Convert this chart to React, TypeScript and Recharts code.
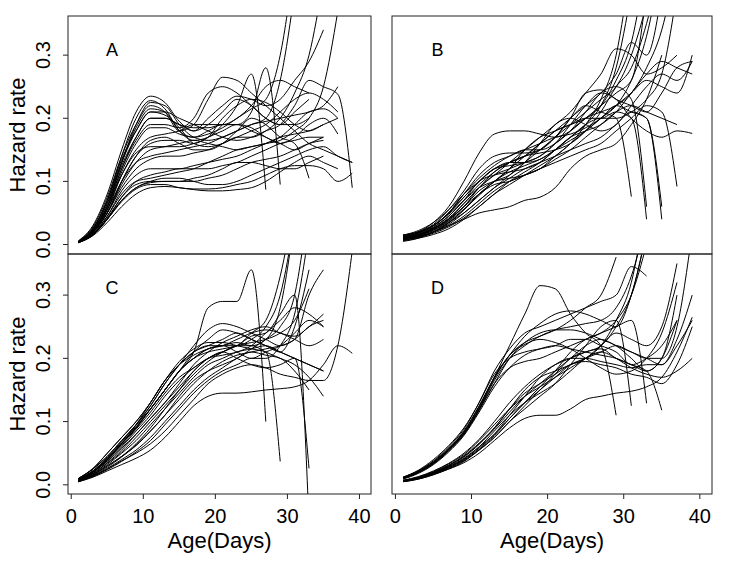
import React from "react";
import { LineChart, Line, XAxis, YAxis } from "recharts";

// knots every 2 days; each curve ends where its array ends
const days = [1, 3, 5, 7, 9, 11, 13, 15, 17, 19, 21, 23, 25, 27, 29, 31, 33, 35, 37, 39];
const yTicks = [0, 0.1, 0.2, 0.3];
const xTicks = [0, 10, 20, 30, 40];

const panelA = [
  [.005, .025, .07, .14, .2, .228, .215, .18, .165, .17, .19, .22, .27, .087],
  [.004, .02, .06, .13, .19, .225, .22, .19, .17, .165, .17, .18, .19, .2, .26, .4],
  [.006, .03, .08, .15, .21, .235, .225, .195, .18, .19, .21, .23, .22, .2, .19, .21, .23],
  [.004, .022, .065, .13, .185, .215, .21, .18, .17, .18, .19, .19, .18, .17, .16, .17, .19, .2, .175],
  [.005, .028, .075, .14, .19, .22, .21, .18, .19, .23, .265, .26, .24, .22, .2, .18, .16, .15, .14, .13],
  [.005, .026, .07, .135, .18, .21, .205, .185, .16, .155, .16, .17, .17, .18, .2, .24, .3, .42],
  [.003, .02, .06, .12, .17, .2, .2, .19, .185, .185, .19, .19, .21, .28, .095],
  [.004, .024, .07, .13, .18, .21, .21, .2, .19, .18, .17, .165, .17, .18, .19, .22, .26, .25, .238, .09],
  [.004, .02, .055, .11, .15, .17, .175, .18, .19, .19, .19, .2, .22, .25, .26, .25, .24],
  [.003, .018, .05, .1, .14, .16, .165, .165, .16, .17, .18, .19, .185, .17, .16, .15, .16, .17],
  [.005, .022, .06, .11, .145, .155, .155, .155, .16, .17, .2, .22, .23, .225, .21, .19, .18, .19, .2],
  [.004, .02, .05, .095, .13, .15, .155, .16, .165, .16, .155, .15, .155, .16, .17, .19, .21, .215, .2],
  [.004, .019, .05, .1, .14, .165, .17, .16, .15, .15, .16, .18, .2, .19, .17, .16, .105],
  [.005, .022, .055, .1, .13, .14, .145, .15, .155, .16, .17, .18, .19, .195, .2, .205, .21, .22, .25],
  [.004, .02, .05, .09, .12, .135, .14, .14, .145, .15, .16, .17, .18, .19, .21, .23, .24, .23, .21],
  [.004, .015, .04, .07, .09, .1, .105, .105, .1, .095, .095, .1, .11, .12, .13, .14, .15, .155, .14, .13],
  [.003, .015, .04, .068, .088, .095, .095, .09, .088, .088, .09, .095, .1, .11, .12, .125, .125, .12, .1, .113],
  [.004, .016, .04, .07, .09, .098, .1, .1, .1, .105, .11, .12, .13, .135, .14, .15, .16, .165],
  [.003, .014, .035, .06, .08, .09, .092, .09, .087, .085, .085, .087, .09, .1, .115, .13, .14, .13, .12],
  [.004, .016, .042, .075, .1, .11, .115, .12, .12, .12, .125, .13, .14, .15, .16, .165, .17, .17],
  [.004, .017, .045, .08, .1, .105, .11, .115, .12, .13, .14, .15, .155, .16, .165, .18, .2, .25, .37],
  [.003, .015, .04, .075, .095, .1, .1, .1, .105, .11, .12, .13, .13, .125, .12, .12, .13, .14],
  [.004, .016, .045, .085, .11, .12, .12, .12, .125, .13, .135, .14, .15, .16, .17, .175, .18, .19],
  [.004, .022, .06, .12, .165, .19, .19, .185, .2, .24, .25, .24, .22, .2, .19, .19, .2],
  [.005, .024, .065, .125, .17, .2, .2, .19, .18, .2, .22, .235, .23, .22, .23, .26, .29, .34],
  [.004, .02, .055, .115, .16, .185, .185, .175, .17, .175, .185, .2, .215, .23, .3, .45],
];

const panelB = [
  [.015, .02, .035, .06, .1, .145, .175, .18, .18, .175, .17, .18, .2, .22, .24, .26, .4],
  [.005, .01, .02, .03, .04, .05, .055, .06, .07, .075, .09, .12, .14, .15, .16, .19, .23, .3],
  [.01, .015, .025, .04, .06, .09, .11, .12, .13, .14, .16, .19, .22, .24, .23, .2, .18, .17, .18, .176],
  [.01, .016, .028, .045, .07, .1, .11, .115, .12, .13, .15, .17, .18, .19, .21, .24, .27, .29, .28, .27],
  [.012, .018, .03, .05, .08, .1, .12, .13, .14, .16, .18, .2, .22, .21, .2, .076],
  [.01, .015, .025, .04, .06, .08, .095, .1, .11, .12, .14, .16, .19, .23, .3, .45],
  [.008, .012, .02, .035, .055, .08, .1, .12, .15, .17, .18, .19, .2, .22, .26, .32, .45],
  [.015, .02, .03, .05, .08, .11, .13, .14, .15, .15, .16, .18, .21, .24, .25, .23, .06],
  [.01, .014, .022, .035, .05, .07, .09, .105, .12, .13, .14, .15, .16, .17, .19, .21, .2, .04],
  [.012, .018, .03, .05, .075, .1, .12, .125, .13, .14, .16, .18, .2, .21, .22, .24, .28, .34, .45],
  [.008, .012, .02, .032, .05, .07, .09, .11, .13, .15, .17, .19, .21, .23, .25, .3, .38],
  [.01, .016, .026, .042, .065, .09, .115, .13, .14, .15, .17, .2, .24, .245, .23, .22, .21, .24, .28, .29],
  [.009, .013, .02, .03, .045, .065, .085, .1, .11, .12, .13, .14, .15, .16, .18, .2, .22, .21, .092],
  [.014, .02, .032, .055, .085, .12, .14, .145, .145, .15, .17, .2, .22, .24, .27, .32, .3, .4],
  [.01, .015, .025, .04, .065, .09, .11, .13, .15, .17, .19, .21, .24, .27, .31, .3, .27, .28, .3],
  [.006, .01, .016, .025, .04, .06, .08, .095, .11, .125, .14, .16, .18, .2, .22, .26, .33, .45],
  [.012, .018, .03, .048, .07, .09, .1, .105, .11, .12, .135, .15, .17, .19, .21, .22, .21, .2, .19],
  [.01, .015, .024, .038, .06, .085, .1, .11, .13, .16, .19, .2, .19, .18, .19, .22, .25, .27, .26, .29],
  [.008, .012, .02, .034, .055, .08, .1, .12, .14, .16, .18, .19, .2, .2, .21, .2, .04],
  [.011, .016, .027, .045, .07, .095, .115, .13, .14, .145, .15, .16, .18, .21, .25, .28, .35, .45],
  [.013, .019, .03, .05, .075, .1, .12, .13, .13, .135, .15, .17, .19, .2, .2, .21, .23, .27, .4],
  [.007, .011, .018, .028, .042, .06, .08, .1, .115, .13, .15, .17, .19, .22, .28, .4],
  [.015, .022, .035, .055, .08, .105, .125, .14, .15, .16, .17, .175, .185, .2, .22, .21, .2, .06],
  [.009, .014, .023, .037, .056, .078, .1, .115, .125, .135, .15, .165, .18, .2, .22, .24, .26, .25, .24, .3],
];

const panelC = [
  [.01, .025, .045, .07, .095, .12, .15, .18, .21, .28, .29, .29, .34, .1],
  [.008, .022, .043, .068, .095, .125, .16, .19, .22, .245, .255, .25, .24, .23, .22, .23, .25, .26],
  [.006, .02, .04, .065, .095, .13, .165, .19, .21, .22, .23, .24, .23, .22, .21, .25, .34],
  [.007, .02, .04, .065, .09, .12, .15, .18, .2, .215, .22, .225, .22, .23, .28, .42],
  [.01, .025, .045, .07, .095, .125, .16, .19, .21, .22, .22, .21, .2, .21, .22, .24, .26, .25],
  [.005, .018, .035, .055, .08, .105, .13, .155, .18, .2, .21, .22, .235, .24, .27, .3, -.06],
  [.006, .016, .03, .045, .065, .09, .12, .15, .18, .2, .21, .22, .22, .21, .2, .19, .17, .14],
  [.005, .012, .022, .032, .042, .055, .075, .1, .125, .14, .145, .145, .147, .15, .152, .155, .165, .19, .22, .208],
  [.005, .014, .025, .038, .05, .065, .085, .11, .135, .16, .175, .185, .19, .185, .175, .17, .165, .165, .22, .37],
  [.008, .02, .04, .065, .09, .12, .15, .18, .2, .215, .22, .22, .23, .25, .3, .42],
  [.006, .017, .032, .05, .07, .095, .12, .145, .17, .19, .2, .21, .215, .22, .21, .2, .19, .18],
  [.01, .025, .05, .075, .1, .13, .165, .195, .215, .225, .225, .22, .215, .21, .037],
  [.007, .02, .038, .06, .085, .11, .14, .165, .185, .2, .21, .2, .19, .185, .19, .2, .026],
  [.006, .016, .03, .045, .062, .085, .11, .135, .16, .18, .195, .205, .21, .215, .22, .23, .3, .34],
  [.009, .022, .042, .065, .09, .12, .15, .18, .2, .21, .215, .22, .24, .26, .33, .45],
  [.007, .018, .034, .052, .075, .1, .125, .15, .175, .195, .21, .22, .225, .23, .24, .26, .31],
  [.005, .014, .026, .04, .055, .075, .1, .125, .15, .17, .185, .2, .21, .205, .2, .18, .15],
  [.008, .02, .04, .062, .088, .115, .145, .17, .185, .2, .205, .21, .22, .24, .26, .28, .27, .25],
  [.006, .015, .028, .044, .063, .085, .11, .14, .165, .18, .19, .2, .215, .23, .25, .3, .45],
  [.01, .026, .05, .075, .1, .13, .165, .19, .205, .215, .22, .23, .24, .245, .24, .23, .22, .23],
  [.005, .013, .024, .037, .052, .07, .095, .12, .145, .165, .18, .19, .2, .2, .22, .27, .4],
  [.009, .022, .042, .066, .092, .12, .15, .18, .21, .23, .245, .24, .23, .22, .21, .2, .19, .18],
  [.007, .02, .037, .058, .08, .105, .13, .16, .19, .21, .225, .235, .245, .25, .24, .235, .25, .27],
];

const panelD = [
  [.01, .02, .035, .056, .082, .12, .17, .22, .27, .315, .31, .27, .24, .22, .11],
  [.012, .022, .037, .058, .085, .125, .17, .205, .235, .255, .27, .275, .27, .26, .25, .3, .4],
  [.01, .02, .034, .054, .08, .118, .16, .2, .225, .24, .245, .245, .24, .23, .22, .2, .18, .2, .26],
  [.011, .021, .036, .057, .084, .124, .168, .205, .225, .235, .245, .26, .28, .3, .36],
  [.009, .018, .032, .052, .078, .115, .155, .185, .205, .215, .22, .215, .21, .205, .2, .19, .18, .118],
  [.012, .022, .038, .06, .088, .13, .175, .2, .21, .215, .22, .23, .23, .22, .21, .19, .2, .22, .26],
  [.01, .019, .033, .054, .08, .12, .165, .2, .22, .235, .245, .25, .255, .26, .28, .33, .42],
  [.011, .02, .035, .056, .083, .122, .17, .205, .222, .23, .225, .215, .2, .185, .175, .18, .2, .24, .32],
  [.01, .02, .034, .055, .08, .118, .16, .185, .195, .2, .21, .22, .23, .24, .25, .26, .129],
  [.012, .023, .04, .062, .09, .13, .18, .215, .24, .25, .26, .27, .28, .29, .3, .345, .33],
  [.005, .01, .017, .025, .035, .05, .07, .09, .105, .11, .11, .12, .135, .14, .145, .148, .155, .17, .21, .265],
  [.006, .011, .019, .029, .042, .06, .08, .105, .13, .15, .17, .19, .2, .21, .22, .21, .2, .19, .23, .3],
  [.007, .012, .02, .031, .045, .065, .088, .115, .14, .16, .18, .2, .22, .23, .22, .21, .2, .2, .25, .4],
  [.005, .009, .016, .025, .037, .055, .075, .1, .125, .15, .175, .2, .21, .215, .2, .19, .18, .2, .3],
  [.006, .01, .018, .028, .04, .058, .08, .11, .14, .17, .19, .2, .2, .195, .19, .185, .19, .19, .22, .26],
  [.007, .013, .022, .034, .05, .072, .1, .13, .155, .175, .19, .2, .21, .22, .25, .3, .4],
  [.006, .011, .019, .03, .044, .064, .09, .12, .145, .16, .175, .19, .195, .19, .185, .175, .17, .16, .19, .25],
  [.005, .01, .017, .027, .039, .056, .078, .105, .13, .155, .18, .21, .23, .24, .26, .3, .38],
  [.007, .012, .021, .033, .048, .07, .095, .12, .14, .155, .17, .185, .2, .22, .24, .23, .22, .25, .35],
  [.006, .011, .02, .031, .046, .066, .09, .12, .15, .17, .18, .19, .2, .22, .26, .32, .45],
  [.005, .009, .016, .026, .038, .055, .075, .1, .12, .14, .16, .19, .22, .25, .26, .125],
  [.006, .011, .018, .028, .041, .06, .085, .11, .13, .145, .16, .18, .2, .21, .2, .185, .175, .17, .18, .2],
];

const FONT = '"Liberation Sans", Arial, Helvetica, sans-serif';
const X_DOMAIN: [number, number] = [-0.45, 41.6];
const TOP_DOMAIN: [number, number] = [-0.015, 0.362];
const BOTTOM_DOMAIN: [number, number] = [-0.0145, 0.365];

const toRows = (curves: number[][]) =>
  days.map((day, i) => {
    const row: Record<string, number | null> = { day };
    curves.forEach((c, j) => {
      row[`s${j}`] = i < c.length ? c[i] : null;
    });
    return row;
  });

const YTick = (props: any) => {
  const { y, payload } = props;
  return (
    <text
      x={50.5}
      y={y}
      transform={`rotate(-90, 50.5, ${y})`}
      textAnchor="middle"
      fontSize={20}
      fontFamily={FONT}
      fill="#000"
    >
      {Number(payload.value).toFixed(1)}
    </text>
  );
};

interface PanelProps {
  curves: number[][];
  left: number;
  top: number;
  plotW: number;
  plotH: number;
  yDomain: [number, number];
  showY: boolean;
  showX: boolean;
}

// each chart gets padding around the plot so tick labels are never cut off
const Panel: React.FC<PanelProps> = ({ curves, left, top, plotW, plotH, yDomain, showY, showX }) => {
  const data = toRows(curves);
  const padL = showY ? 0 : 20;
  const yW = showY ? 68 : 0;
  const padT = 16;
  const xH = showX ? 60 : 0;
  const padB = showX ? 0 : 20;
  const XTick = (props: any) => (
    <text x={props.x} y={padT + plotH + 29} textAnchor="middle" fontSize={20} fontFamily={FONT} fill="#000">
      {props.payload.value}
    </text>
  );
  return (
    <div style={{ position: "absolute", left: left - padL - yW, top: top - padT }}>
      <LineChart
        width={padL + yW + plotW + 10}
        height={padT + plotH + xH + padB}
        data={data}
        margin={{ top: padT, right: 10, bottom: padB, left: padL }}
      >
        <XAxis
          dataKey="day"
          type="number"
          domain={X_DOMAIN}
          allowDataOverflow
          ticks={xTicks}
          hide={!showX}
          height={60}
          axisLine={false}
          tickLine={{ stroke: "#222" }}
          tickSize={5}
          tick={XTick}
          interval={0}
        />
        <YAxis
          type="number"
          domain={yDomain}
          allowDataOverflow
          ticks={yTicks}
          hide={!showY}
          width={68}
          axisLine={false}
          tickLine={{ stroke: "#222" }}
          tickSize={5}
          tick={<YTick />}
          interval={0}
        />
        {curves.map((_, j) => (
          <Line
            key={j}
            dataKey={`s${j}`}
            type="monotone"
            stroke="#000"
            strokeWidth={1}
            dot={false}
            activeDot={false}
            connectNulls={false}
            isAnimationActive={false}
          />
        ))}
      </LineChart>
    </div>
  );
};

const App: React.FC = () => {
  return (
    <div style={{ position: "absolute", left: 0, top: 0, width: 732, height: 562, background: "#fff", overflow: "hidden" }}>
      <Panel curves={panelA} left={68} top={16} plotW={303} plotH={238} yDomain={TOP_DOMAIN} showY showX={false} />
      <Panel curves={panelB} left={392} top={16} plotW={320} plotH={238} yDomain={TOP_DOMAIN} showY={false} showX={false} />
      <Panel curves={panelC} left={68} top={254} plotW={303} plotH={240} yDomain={BOTTOM_DOMAIN} showY showX />
      <Panel curves={panelD} left={392} top={254} plotW={320} plotH={240} yDomain={BOTTOM_DOMAIN} showY={false} showX />
      <svg width={732} height={562} style={{ position: "absolute", left: 0, top: 0, pointerEvents: "none" }}>
        <g fill="none" stroke="#222" strokeWidth={1}>
          <rect x={68} y={16} width={303} height={238} />
          <rect x={392} y={16} width={320} height={238} />
          <rect x={68} y={254} width={303} height={240} />
          <rect x={392} y={254} width={320} height={240} />
        </g>
        <g fontFamily={FONT} fill="#000">
          <text x={24.5} y={135} fontSize={22} textAnchor="middle" transform="rotate(-90, 24.5, 135)">Hazard rate</text>
          <text x={24.5} y={374} fontSize={22} textAnchor="middle" transform="rotate(-90, 24.5, 374)">Hazard rate</text>
          <text x={219.5} y={548} fontSize={22} textAnchor="middle">Age(Days)</text>
          <text x={552} y={548} fontSize={22} textAnchor="middle">Age(Days)</text>
          <text x={112} y={55.5} fontSize={18} textAnchor="middle">A</text>
          <text x={437.5} y={55.5} fontSize={18} textAnchor="middle">B</text>
          <text x={112} y={293.5} fontSize={18} textAnchor="middle">C</text>
          <text x={437.5} y={293.5} fontSize={18} textAnchor="middle">D</text>
        </g>
      </svg>
    </div>
  );
};

export default App;
